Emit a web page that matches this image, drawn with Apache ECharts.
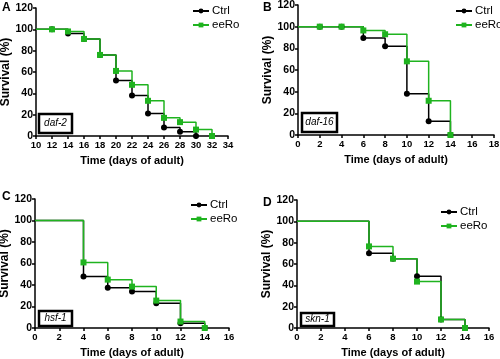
<!DOCTYPE html>
<html>
<head>
<meta charset="utf-8">
<script src="https://cdn.jsdelivr.net/npm/echarts@6/dist/echarts.min.js"></script>
<style>
  html, body { margin: 0; padding: 0; background: #fff; }
  #chart { width: 500px; height: 359px; }
</style>
</head>
<body>
<div id="chart"></div>
<script>
const seriesNames = ['Ctrl', 'eeRo']
const geneLabels = ['daf-2', 'daf-16', 'hsf-1', 'skn-1']
const panelLetters = ['A', 'B', 'C', 'D']

// survival (%) per day, panel A (daf-2)
const daysA = [10, 12, 14, 16, 18, 20, 22, 24, 26, 28, 30, 32]
const ctrlA = [100, 100, 96, 91, 76, 52, 38, 21, 8, 4, 0]
const eeRoA = [100, 100, 98, 91, 76, 61, 48, 33, 17, 13, 6, 0]

// panel B (daf-16)
const daysB = [0, 2, 4, 6, 8, 10, 12, 14]
const ctrlB = [100, 100, 100, 89.6, 82, 38, 12.6, 0]
const eeRoB = [100, 100, 100, 96.5, 93, 68, 31.6, 0]

// panel C (hsf-1)
const daysC = [0, 4, 6, 8, 10, 12, 14]
const ctrlC = [100, 48, 37.5, 34, 23, 4.5, 0]
const eeRoC = [100, 61, 45, 38.5, 25.5, 6, 0]

// panel D (skn-1)
const daysD = [0, 6, 8, 10, 12, 14]
const ctrlD = [100, 70, 65, 48.5, 8, 0]
const eeRoD = [100, 76.5, 65, 43.5, 8, 0]

const xRanges = [[10, 34], [0, 18], [0, 16], [0, 16]]
const yTicks = [0, 120, 20]

const panels = [
  { days: daysA, ctrl: ctrlA, eeRo: eeRoA },
  { days: daysB, ctrl: ctrlB, eeRo: eeRoB },
  { days: daysC, ctrl: ctrlC, eeRo: eeRoC },
  { days: daysD, ctrl: ctrlD, eeRo: eeRoD }
]

const grids = [
  { left: 36, top: 8, width: 192, height: 128 },
  { left: 298, top: 5, width: 196, height: 130 },
  { left: 35, top: 199, width: 194, height: 129 },
  { left: 297, top: 200, width: 192, height: 128 }
].map(g => ({ ...g, outerBoundsMode: 'none', containLabel: false }))

const legendPos = [
  { left: 187, top: 0 },
  { left: 450, top: 0 },
  { left: 185, top: 194 },
  { left: 435, top: 201 }
]

const boxPos = [
  { x: 39, y: 114, w: 33, h: 19 },
  { x: 302, y: 113, w: 35, h: 19 },
  { x: 39, y: 311, w: 33, h: 15 },
  { x: 301, y: 313, w: 33, h: 13 }
]

const letterPos = [[2, 2], [263, 2], [2, 191], [263, 197]]

const font = 'Arial, "Liberation Sans", sans-serif'
const green = '#1fb31f'

const toData = (days, vals) =>
  vals.map((v, i) => (i === 0 ? { value: [days[i], v], symbol: 'none' } : [days[i], v]))

const xAxis = xRanges.map(([min, max], i) => ({
  type: 'value',
  gridIndex: i,
  min,
  max,
  interval: 2,
  name: 'Time (days of adult)',
  nameLocation: 'middle',
  nameGap: 19,
  nameTextStyle: { fontFamily: font, fontWeight: 'bold', fontSize: 11, color: '#000' },
  axisLine: { lineStyle: { color: '#000', width: 1.5 } },
  axisTick: { length: 3, lineStyle: { color: '#000', width: 1.5 } },
  axisLabel: { fontFamily: font, fontWeight: 'bold', fontSize: 9.5, color: '#000', margin: 4 },
  splitLine: { show: false }
}))

const yAxis = grids.map((g, i) => ({
  type: 'value',
  gridIndex: i,
  min: yTicks[0],
  max: yTicks[1],
  interval: yTicks[2],
  name: 'Survival (%)',
  nameLocation: 'middle',
  nameGap: 23,
  nameTextStyle: { fontFamily: font, fontWeight: 'bold', fontSize: 12, color: '#000' },
  axisLine: { show: true, lineStyle: { color: '#000', width: 1.5 } },
  axisTick: { show: true, length: 3, lineStyle: { color: '#000', width: 1.5 } },
  axisLabel: { fontFamily: font, fontWeight: 'bold', fontSize: 10.5, color: '#000', margin: 3 },
  splitLine: { show: false }
}))

const series = []
panels.forEach((p, i) => {
  series.push({
    name: seriesNames[0],
    type: 'line',
    xAxisIndex: i,
    yAxisIndex: i,
    step: 'end',
    symbol: 'circle',
    symbolSize: 6,
    itemStyle: { color: '#000' },
    lineStyle: { color: '#000', width: 1.5 },
    data: toData(p.days, p.ctrl),
    animation: false
  })
  series.push({
    name: seriesNames[1],
    type: 'line',
    xAxisIndex: i,
    yAxisIndex: i,
    step: 'end',
    symbol: 'rect',
    symbolSize: 6,
    itemStyle: { color: green },
    lineStyle: { color: green, width: 1.5 },
    data: toData(p.days, p.eeRo),
    animation: false
  })
})

const legend = legendPos.map(pos => ({
  ...pos,
  orient: 'vertical',
  data: seriesNames,
  itemWidth: 16,
  itemHeight: 6,
  itemGap: 2,
  textStyle: { fontFamily: font, fontSize: 11.5, color: '#000', padding: [0, 0, 0, -2] }
}))

const graphic = []
boxPos.forEach((b, i) => {
  graphic.push({
    type: 'rect',
    shape: { x: b.x, y: b.y, width: b.w, height: b.h },
    style: { fill: '#fff', stroke: '#000', lineWidth: 2.5 },
    z: 10
  })
  graphic.push({
    type: 'text',
    x: b.x + b.w / 2,
    y: b.y + b.h / 2,
    style: {
      text: geneLabels[i],
      fontFamily: font,
      fontStyle: 'italic',
      fontSize: 10,
      fill: '#000',
      align: 'center',
      verticalAlign: 'middle'
    },
    z: 11
  })
})
letterPos.forEach(([x, y], i) => {
  graphic.push({
    type: 'text',
    x,
    y,
    style: { text: panelLetters[i], fontFamily: font, fontWeight: 'bold', fontSize: 12, fill: '#000' }
  })
})

const chart = echarts.init(document.getElementById('chart'))
chart.setOption({
  animation: false,
  grid: grids,
  xAxis,
  yAxis,
  legend,
  series,
  graphic
})
</script>
</body>
</html>
